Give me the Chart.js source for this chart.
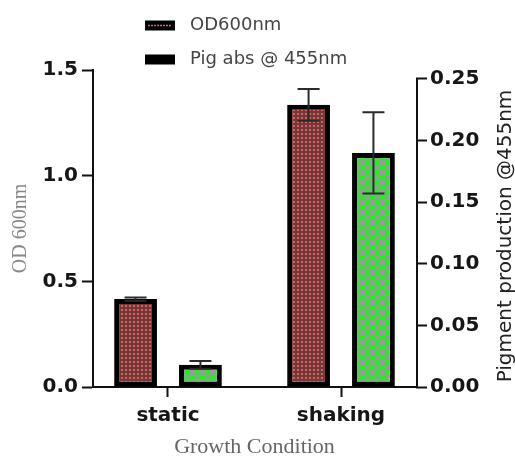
<!DOCTYPE html>
<html>
<head>
<meta charset="utf-8">
<script src="https://cdn.jsdelivr.net/npm/chart.js@4.4.1/dist/chart.umd.min.js"></script>
<style>
  html, body { margin: 0; padding: 0; background: #fff; }
  #wrap { width: 515px; height: 458px; }
</style>
</head>
<body>
<div id="wrap"><canvas id="growth-chart" width="515" height="458"></canvas></div>
<script>
//data
const categories = ['static', 'shaking'];
const categoryIndex = [0, 1];
const odValues = [0.416, 1.335];
const odErrors = [0.008, 0.075];
const pigValues = [0.018, 0.19];
const pigErrors = [0.0032, 0.033];
const odTicks = [0, 0.5, 1.0, 1.5];
const pigTicks = [0, 0.05, 0.10, 0.15, 0.20, 0.25];
const seriesLabels = ['OD600nm', 'Pig abs @ 455nm'];

//query selectors
const chartCanvas = document.getElementById('growth-chart');
const chartCtx = chartCanvas.getContext('2d');

//patterns for the bar fills
function makeDotPattern() {
  const tile = document.createElement('canvas');
  tile.width = 4;
  tile.height = 4;
  const c = tile.getContext('2d');
  c.fillStyle = '#783636';
  c.fillRect(0, 0, 4, 4);
  c.fillStyle = '#c86666';
  c.fillRect(1, 1, 2, 2);
  return chartCtx.createPattern(tile, 'repeat');
}

function makeCheckPattern() {
  const tile = document.createElement('canvas');
  tile.width = 10;
  tile.height = 10;
  const c = tile.getContext('2d');
  c.fillStyle = '#1ef01e';
  c.fillRect(0, 0, 10, 10);
  c.fillStyle = '#9a9a9a';
  c.fillRect(0, 0, 5, 5);
  c.fillRect(5, 5, 5, 5);
  return chartCtx.createPattern(tile, 'repeat');
}

function toPoints(values) {
  return values.map((v, i) => ({x: categoryIndex[i], y: v}));
}

//plugins
const errorBars = {
  id: 'errorBars',
  afterDatasetsDraw(chart) {
    const ctx = chart.ctx;
    chart.data.datasets.forEach((ds, i) => {
      const meta = chart.getDatasetMeta(i);
      const yScale = chart.scales[ds.yAxisID];
      meta.data.forEach((bar, j) => {
        const v = ds.data[j].y;
        const top = yScale.getPixelForValue(v + ds.errors[j]);
        const bottom = yScale.getPixelForValue(v - ds.errors[j]);
        ctx.save();
        ctx.strokeStyle = '#2a2a2a';
        ctx.lineWidth = 2;
        ctx.beginPath();
        ctx.moveTo(bar.x, top);
        ctx.lineTo(bar.x, bottom);
        ctx.moveTo(bar.x - 11, top);
        ctx.lineTo(bar.x + 11, top);
        ctx.moveTo(bar.x - 11, bottom);
        ctx.lineTo(bar.x + 11, bottom);
        ctx.stroke();
        ctx.restore();
      });
    });
  }
};

// right axis line only runs up to its last tick
const rightAxisLine = {
  id: 'rightAxisLine',
  afterDraw(chart) {
    const scale = chart.scales.y1;
    const ctx = chart.ctx;
    ctx.save();
    ctx.strokeStyle = '#111';
    ctx.lineWidth = 2;
    ctx.beginPath();
    ctx.moveTo(scale.left + 1, scale.getPixelForValue(pigTicks[pigTicks.length - 1]) - 1);
    ctx.lineTo(scale.left + 1, scale.getPixelForValue(0) + 1);
    ctx.stroke();
    ctx.restore();
  }
};

const stackedLegend = {
  id: 'stackedLegend',
  afterDraw(chart) {
    const ctx = chart.ctx;
    ctx.save();
    ctx.font = '18px "DejaVu Sans"';
    ctx.textBaseline = 'middle';
    ctx.textAlign = 'left';
    chart.data.datasets.forEach((ds, i) => {
      const y = 25.5 + i * 34;
      ctx.fillStyle = '#000';
      ctx.fillRect(145, y - 5, 30, 10);
      if (ds.legendLine) {
        ctx.strokeStyle = ds.legendLine;
        ctx.lineWidth = 1.5;
        ctx.setLineDash([2, 1]);
        ctx.beginPath();
        ctx.moveTo(148, y);
        ctx.lineTo(172, y);
        ctx.stroke();
        ctx.setLineDash([]);
      }
      ctx.fillStyle = '#444';
      ctx.fillText(ds.label, 190, y);
    });
    ctx.restore();
  }
};

const rightTitle = {
  id: 'rightTitle',
  afterDraw(chart) {
    const ctx = chart.ctx;
    ctx.save();
    ctx.translate(506, 236);
    ctx.rotate(-Math.PI / 2);
    ctx.font = '20px "DejaVu Sans"';
    ctx.fillStyle = '#222';
    ctx.textAlign = 'center';
    ctx.textBaseline = 'middle';
    ctx.fillText('Pigment production @455nm', 0, 0);
    ctx.restore();
  }
};

const tickFont = {family: 'DejaVu Sans', size: 20, weight: 'bold'};

const growthChart = new Chart(chartCanvas, {
  type: 'bar',
  data: {
    datasets: [{
      label: seriesLabels[0],
      data: toPoints(odValues),
      errors: odErrors,
      yAxisID: 'y',
      backgroundColor: makeDotPattern(),
      borderColor: '#000',
      borderWidth: 5,
      borderSkipped: false,
      legendLine: '#c96b6b',
      categoryPercentage: 0.75,
      barPercentage: 0.66
    }, {
      label: seriesLabels[1],
      data: toPoints(pigValues),
      errors: pigErrors,
      yAxisID: 'y1',
      backgroundColor: makeCheckPattern(),
      borderColor: '#000',
      borderWidth: 5,
      borderSkipped: false,
      categoryPercentage: 0.75,
      barPercentage: 0.66
    }]
  },
  options: {
    responsive: false,
    animation: false,
    devicePixelRatio: 1,
    layout: {
      padding: {top: 70, left: 0, right: 0, bottom: 0}
    },
    plugins: {
      legend: {display: false},
      tooltip: {enabled: false}
    },
    scales: {
      x: {
        type: 'linear',
        position: 'bottom',
        offset: false,
        min: -0.4335,
        max: 1.4335,
        afterBuildTicks: scale => {
          scale.ticks = categoryIndex.map(v => ({value: v}));
        },
        afterFit: scale => {
          scale.height = 71;
        },
        ticks: {
          callback: value => categories[value],
          font: tickFont,
          color: '#161616',
          padding: 7,
          autoSkip: false,
          maxRotation: 0
        },
        grid: {
          offset: false,
          drawOnChartArea: false,
          tickLength: 10,
          tickWidth: 2,
          tickColor: '#111'
        },
        border: {color: '#111', width: 2},
        title: {
          display: true,
          text: 'Growth Condition',
          color: '#666',
          font: {family: 'Liberation Serif', size: 22, lineHeight: 1},
          padding: {top: 0, bottom: 0}
        }
      },
      y: {
        position: 'left',
        min: 0,
        max: 1.5,
        afterBuildTicks: scale => {
          scale.ticks = odTicks.map(v => ({value: v}));
        },
        afterFit: scale => {
          scale.width = 93;
        },
        ticks: {
          callback: value => value.toFixed(1),
          font: tickFont,
          color: '#161616',
          padding: 4
        },
        grid: {
          drawOnChartArea: false,
          tickLength: 11,
          tickWidth: 2,
          tickColor: '#111'
        },
        border: {color: '#111', width: 2},
        title: {
          display: true,
          text: 'OD 600nm',
          color: '#888',
          font: {family: 'Liberation Serif', size: 20},
          padding: {top: 9, bottom: 0}
        }
      },
      y1: {
        position: 'right',
        min: 0,
        max: 0.2573,
        afterBuildTicks: scale => {
          scale.ticks = pigTicks.map(v => ({value: v}));
        },
        afterFit: scale => {
          scale.width = 99;
        },
        ticks: {
          callback: value => value.toFixed(2),
          font: tickFont,
          color: '#161616',
          padding: 3
        },
        grid: {
          drawOnChartArea: false,
          tickLength: 11,
          tickWidth: 2,
          tickColor: '#111'
        },
        border: {display: false}
      }
    }
  },
  plugins: [errorBars, rightAxisLine, stackedLegend, rightTitle]
});
</script>
</body>
</html>
